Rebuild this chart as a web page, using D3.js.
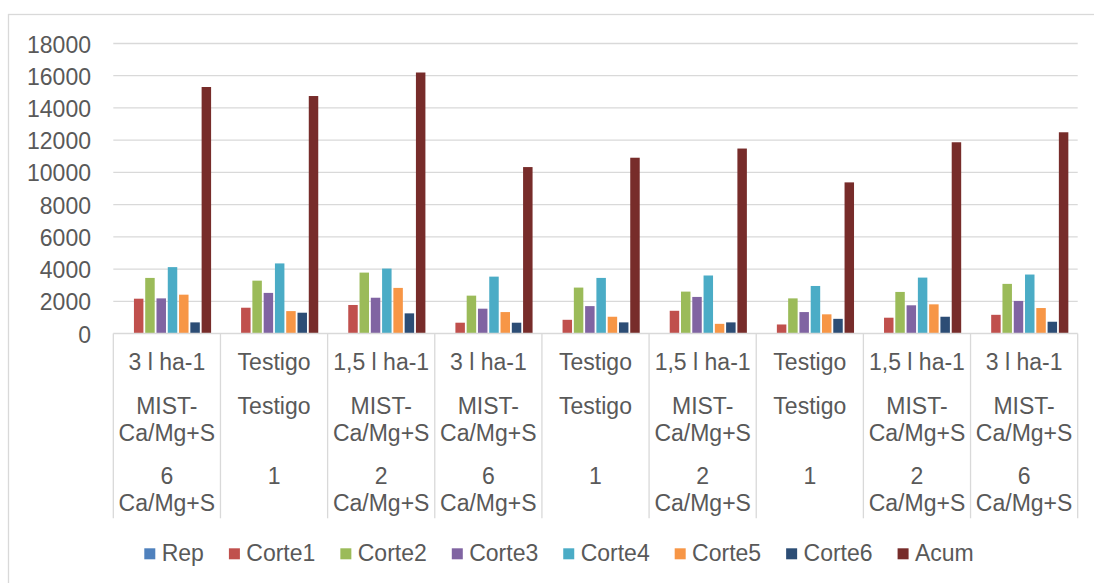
<!DOCTYPE html>
<html>
<head>
<meta charset="utf-8">
<script src="https://cdn.jsdelivr.net/npm/d3@7/dist/d3.min.js"></script>
<style>
  html, body { margin: 0; padding: 0; background: #ffffff; }
  svg { display: block; font-family: "Liberation Sans", Arial, sans-serif; }
</style>
</head>
<body>
<svg id="chart" width="1094" height="583"></svg>
<script>
// Treatment labels, three levels per group
const level1 = ["3 l ha-1", "Testigo", "1,5 l ha-1", "3 l ha-1", "Testigo", "1,5 l ha-1", "Testigo", "1,5 l ha-1", "3 l ha-1"];
const level2 = ["MIST-Ca/Mg+S", "Testigo", "MIST-Ca/Mg+S", "MIST-Ca/Mg+S", "Testigo", "MIST-Ca/Mg+S", "Testigo", "MIST-Ca/Mg+S", "MIST-Ca/Mg+S"];
const level3 = ["6 Ca/Mg+S", "1", "2 Ca/Mg+S", "6 Ca/Mg+S", "1", "2 Ca/Mg+S", "1", "2 Ca/Mg+S", "6 Ca/Mg+S"];

const seriesNames = ["Rep", "Corte1", "Corte2", "Corte3", "Corte4", "Corte5", "Corte6", "Acum"];
const seriesColors = ["#4F81BD", "#C0504D", "#9BBB59", "#8064A2", "#4BACC6", "#F79646", "#2C4D75", "#772C2A"];

// Yield per cut (kg/ha) and accumulated total
const rep    = [1, 1, 1, 2, 2, 2, 3, 3, 3];
const corte1 = [2160, 1600, 1770, 670, 850, 1410, 560, 980, 1160];
const corte2 = [3450, 3280, 3780, 2350, 2850, 2600, 2180, 2580, 3080];
const corte3 = [2180, 2520, 2220, 1540, 1700, 2270, 1330, 1750, 2020];
const corte4 = [4120, 4350, 4030, 3530, 3450, 3600, 2950, 3470, 3660];
const corte5 = [2410, 1390, 2830, 1330, 1040, 600, 1190, 1810, 1580];
const corte6 = [690, 1290, 1250, 670, 690, 690, 910, 1040, 730];
const acum   = [15300, 14740, 16200, 10330, 10910, 11480, 9380, 11870, 12490];

const yTicks = [0, 2000, 4000, 6000, 8000, 10000, 12000, 14000, 16000, 18000];

const seriesValues = [rep, corte1, corte2, corte3, corte4, corte5, corte6, acum];

const svg = d3.select("#chart");
const textColor = "#595959";
const lineColor = "#d9d9d9";
const fontSize = 23;

// Chart area frame
svg.append("rect")
  .attr("x", 8.5).attr("y", 14.5)
  .attr("width", 1200).attr("height", 700)
  .attr("fill", "#ffffff")
  .attr("stroke", lineColor).attr("stroke-width", 1.3);

const plot = { left: 113.3, right: 1077.7, top: 43.5, bottom: 333.5 };

const x0 = d3.scaleBand()
  .domain(d3.range(level1.length))
  .range([plot.left, plot.right])
  .paddingInner(0).paddingOuter(0);

const x1 = d3.scaleBand()
  .domain(seriesNames)
  .range([0, x0.bandwidth()])
  .paddingInner(0).paddingOuter(0.75);

const y = d3.scaleLinear()
  .domain([0, 18000])
  .range([plot.bottom, plot.top]);

// Horizontal gridlines
svg.append("g")
  .selectAll("line")
  .data(yTicks.filter(d => d > 0))
  .join("line")
  .attr("x1", plot.left).attr("x2", plot.right)
  .attr("y1", d => y(d)).attr("y2", d => y(d))
  .attr("stroke", lineColor).attr("stroke-width", 1.3);

// Y-axis labels
svg.append("g")
  .selectAll("text")
  .data(yTicks)
  .join("text")
  .attr("x", 91)
  .attr("y", d => y(d) + 9)
  .attr("text-anchor", "end")
  .attr("font-size", fontSize)
  .attr("fill", textColor)
  .text(d => d);

// Bars
const groups = svg.append("g")
  .selectAll("g")
  .data(d3.range(level1.length))
  .join("g")
  .attr("transform", i => `translate(${x0(i)},0)`);

groups.selectAll("rect")
  .data(i => seriesNames.map((name, s) => ({ name, s, value: seriesValues[s][i] })))
  .join("rect")
  .attr("x", d => x1(d.name) + 0.9)
  .attr("width", x1.bandwidth() - 1.8)
  .attr("y", d => y(d.value))
  .attr("height", d => y(0) - y(d.value))
  .attr("fill", d => seriesColors[d.s]);

// Category axis: baseline and group separators
svg.append("line")
  .attr("x1", plot.left).attr("x2", plot.right)
  .attr("y1", plot.bottom).attr("y2", plot.bottom)
  .attr("stroke", lineColor).attr("stroke-width", 1.3);

const bounds = d3.range(level1.length + 1).map(i =>
  i < level1.length ? x0(i) : x0(level1.length - 1) + x0.bandwidth());

svg.append("g")
  .selectAll("line")
  .data(bounds)
  .join("line")
  .attr("x1", d => d).attr("x2", d => d)
  .attr("y1", plot.bottom).attr("y2", 518.3)
  .attr("stroke", lineColor).attr("stroke-width", 1.3);

// Wrap a label into lines that fit the group width (break after "-" or at spaces)
const measurer = svg.append("text").attr("font-size", fontSize).attr("visibility", "hidden");
function textWidth(s) { measurer.text(s); return measurer.node().getComputedTextLength(); }
function wrap(label, maxW) {
  const tokens = label.match(/[^\s-]+-?|\s+/g).filter(t => t.trim().length);
  const seps = [];
  // remember whether each token was followed by a space
  let rest = label;
  tokens.forEach(t => { const k = rest.indexOf(t); rest = rest.slice(k + t.length); seps.push(rest.startsWith(" ") ? " " : ""); });
  const lines = [];
  let cur = "";
  tokens.forEach((t, k) => {
    const trial = cur + t;
    if (cur && textWidth(trial) > maxW) { lines.push(cur.trim()); cur = t + seps[k]; }
    else { cur = trial + seps[k]; }
  });
  if (cur.trim()) lines.push(cur.trim());
  return lines;
}

const rowBaselines = [370, 414, 484];
const lineStep = 26.5;
[level1, level2, level3].forEach((labels, r) => {
  labels.forEach((lab, i) => {
    const lines = wrap(lab, x0.bandwidth() - 2);
    const t = svg.append("text")
      .attr("font-size", fontSize)
      .attr("fill", textColor)
      .attr("text-anchor", "middle");
    lines.forEach((ln, k) => {
      t.append("tspan")
        .attr("x", x0(i) + x0.bandwidth() / 2)
        .attr("y", rowBaselines[r] + k * lineStep)
        .text(ln);
    });
  });
});
measurer.remove();

// Legend
const legend = svg.append("g");
let lx = 144.3;
seriesNames.forEach((name, s) => {
  legend.append("rect")
    .attr("x", lx).attr("y", 548.3)
    .attr("width", 11).attr("height", 11)
    .attr("fill", seriesColors[s]);
  const t = legend.append("text")
    .attr("x", lx + 17.4).attr("y", 560.7)
    .attr("font-size", fontSize)
    .attr("fill", textColor)
    .text(name);
  lx += 17.4 + t.node().getComputedTextLength() + 25;
});
</script>
</body>
</html>
